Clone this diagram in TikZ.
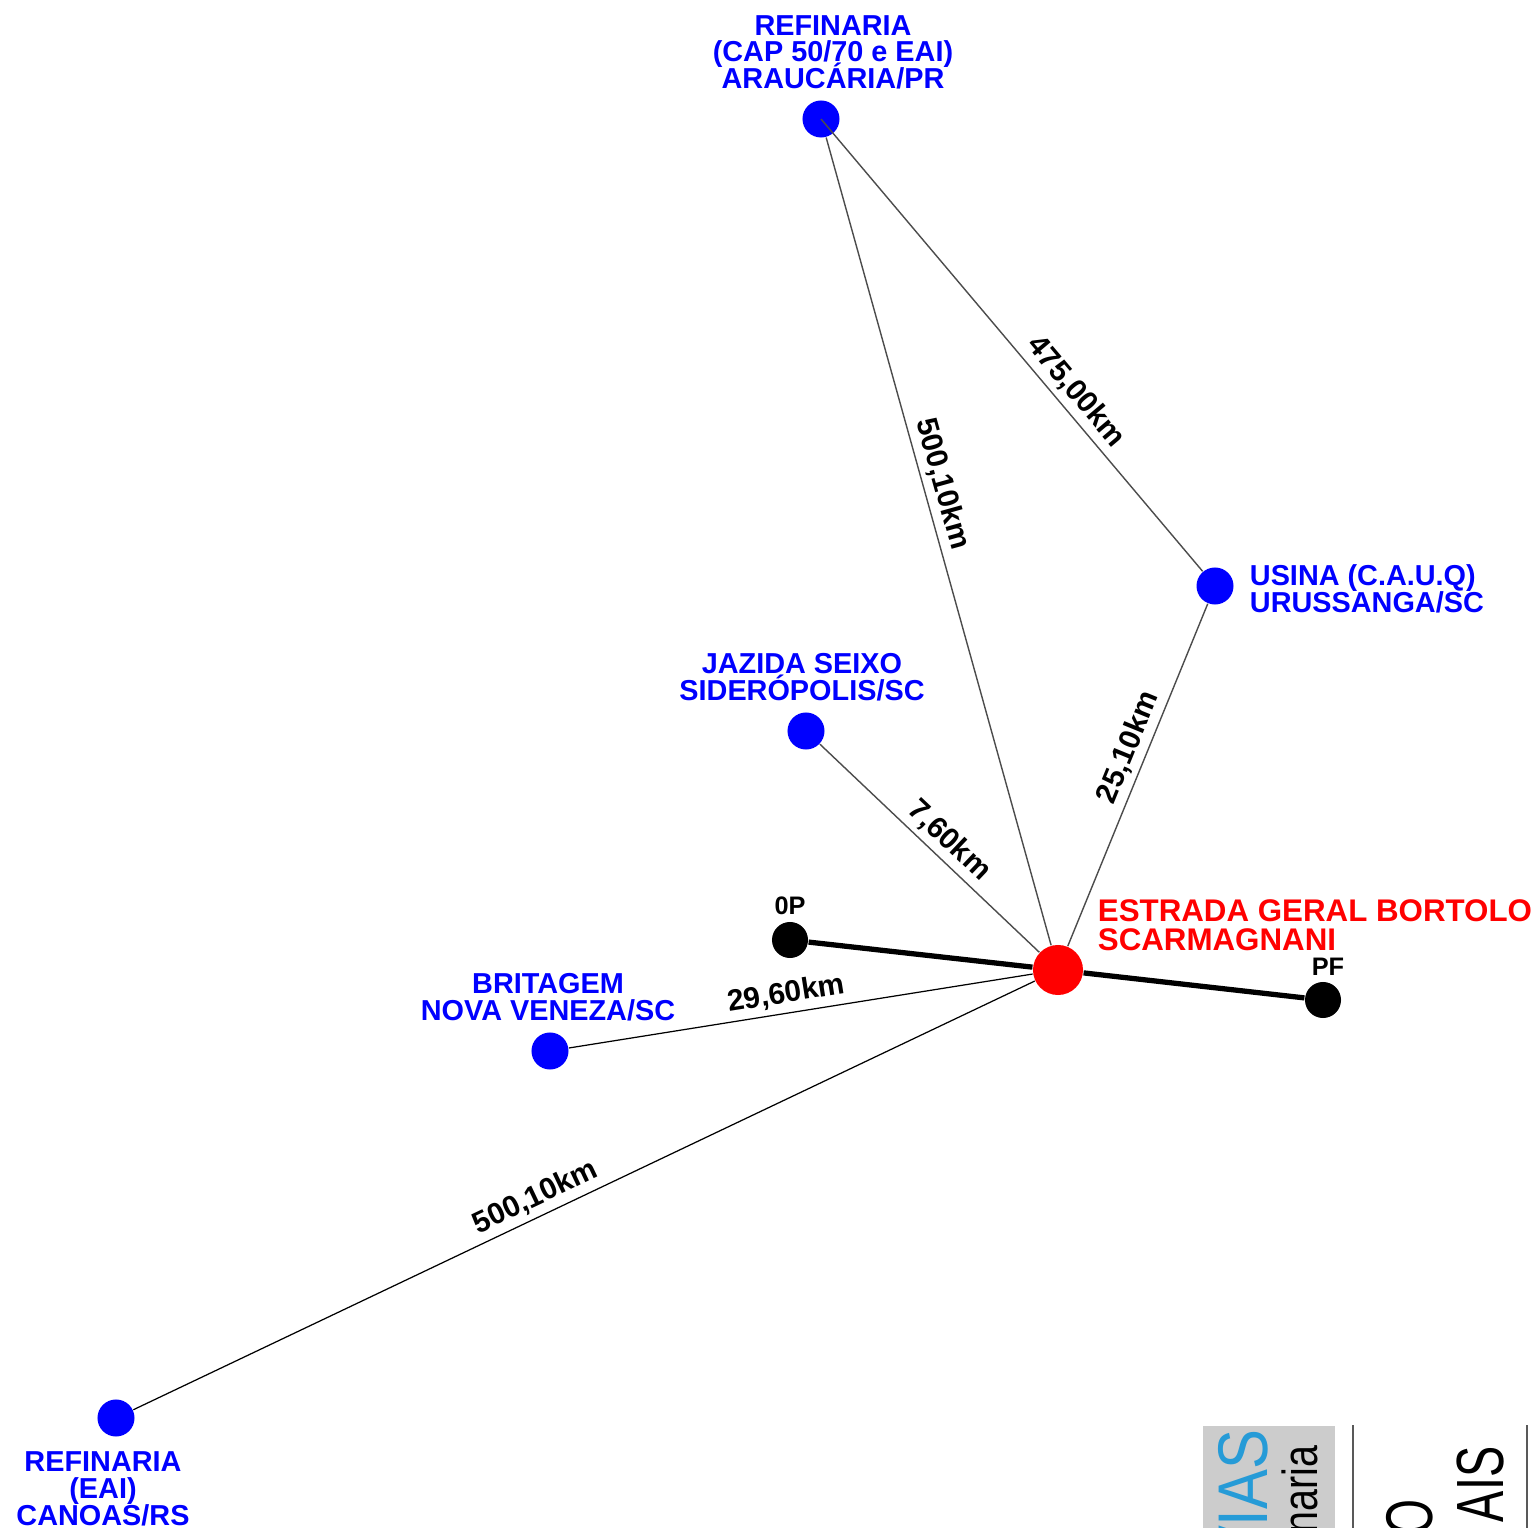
\documentclass[tikz,border=0pt]{standalone}
\usepackage{graphicx}
\usepackage{fontspec}
\setmainfont{Liberation Sans}
\usetikzlibrary{positioning}
\setlength{\lineskiplimit}{-20pt}
\definecolor{cinzacarimbo}{RGB}{204,204,204}
\definecolor{azulcarimbo}{RGB}{38,155,215}
\tikzset{
  ponto/.style       = {circle, fill=blue, inner sep=0pt, minimum size=3.7mm},
  pontopreto/.style  = {ponto, fill=black, minimum size=3.6mm},
  pontocentral/.style= {ponto, fill=red, minimum size=5mm},
  rotulo/.style      = {text=blue, font=\bfseries\fontsize{8.2}{7.6}\selectfont, align=center, inner sep=0pt},
  rotuloverm/.style  = {rotulo, text=red, align=left, font=\bfseries\fontsize{8.9}{8.3}\selectfont},
  rotulopreto/.style = {font=\bfseries\fontsize{7.2}{8}\selectfont, inner sep=0pt},
  distancia/.style   = {font=\bfseries\fontsize{8.5}{9}\selectfont, inner sep=1.5pt, sloped, above},
  ligacao/.style     = {draw=black!70, line width=0.4pt},
  ligacaopreta/.style= {draw=black, line width=0.35pt},
  eixo/.style        = {draw=black, line width=1.5pt},
  carimbo/.style     = {rotate=90, anchor=base east, inner sep=0pt}
}
\begin{document}
\begin{tikzpicture}[x=0.01cm, y=-0.01cm]
  \useasboundingbox (0,0) rectangle (1539,1528);

  % pontos
  \node[ponto] (reftop) at (821,119) {};
  \node[ponto] (usina) at (1215,586) {};
  \node[ponto] (jazida) at (806,731) {};
  \node[ponto] (britagem) at (550,1051) {};
  \node[ponto] (refbot) at (116,1418) {};
  \node[pontopreto] (op) at (790,940) {};
  \node[pontopreto] (pf) at (1323,1000) {};
  \node[pontocentral] (centro) at (1058,970) {};

  % rotulos
  \node[rotulo, above=1.0mm of reftop, xshift=1.2mm] (t_reftop) {REFINARIA\\(CAP 50/70 e EAI)\\ARAUCÁRIA/PR};
  \node[rotulo, right=1.5mm of usina, yshift=-0.3mm, align=left] (t_usina) {USINA (C.A.U.Q)\\URUSSANGA/SC};
  \node[rotulo, above=1.0mm of jazida, xshift=-0.4mm] (t_jazida) {JAZIDA SEIXO\\SIDERÓPOLIS/SC};
  \node[rotulo, above=1.0mm of britagem, xshift=-0.2mm] (t_britagem) {BRITAGEM\\NOVA VENEZA/SC};
  \node[rotulo, below=1.4mm of refbot, xshift=-1.3mm] (t_refbot) {REFINARIA\\(EAI)\\CANOAS/RS};
  \node[rotuloverm, above right=0mm and 2.1mm of centro.north east] (t_centro) {ESTRADA GERAL BORTOLO\\SCARMAGNANI};
  \node[rotulopreto, above=0.6mm of op] (t_op) {0P};
  \node[rotulopreto, above=0.5mm of pf, xshift=0.5mm] (t_pf) {PF};

  % distancias
  \draw[ligacao] (reftop) -- node[distancia, pos=0.435] {500,10km} (centro);
  \draw[ligacao] (reftop.center) -- node[distancia, pos=0.63] {475,00km} (usina);
  \draw[ligacao] (centro) -- node[distancia, pos=0.56] {25,10km} (usina);
  \draw[ligacao] (jazida) -- node[distancia, pos=0.53] {7,60km} (centro);
  \draw[ligacaopreta] (britagem) -- node[distancia, pos=0.475] {29,60km} (centro);
  \draw[ligacaopreta] (refbot) -- node[distancia, pos=0.455] {500,10km} (centro);
  \draw[eixo] (op) -- (centro);
  \draw[eixo] (centro) -- (pf);

  % carimbo cortado no canto
  \begin{scope}
    \clip (0,0) rectangle (1539,1528);
    \fill[cinzacarimbo] (1203,1426) rectangle (1335,1540);
    \node[carimbo, text=azulcarimbo, font=\fontsize{20}{20}\selectfont] (t_vias) at (1267,1429) {\scalebox{0.85}[1]{VIAS}};
    \node[carimbo, font=\fontsize{14}{14}\selectfont] (t_naria) at (1317,1445) {\scalebox{0.8}[1]{naria}};
    \node[carimbo, font=\fontsize{18.8}{19}\selectfont] (t_o) at (1432,1499) {\scalebox{0.7}[1]{O}};
    \node[carimbo, font=\fontsize{19}{19}\selectfont] (t_ais) at (1503,1446) {\scalebox{0.7}[1]{AIS}};
    \draw[black!65, line width=0.6pt] (1353,1425) -- (1353,1540);
    \draw[black!65, line width=0.6pt] (1527,1425) -- (1527,1540);
  \end{scope}
\end{tikzpicture}
\end{document}
